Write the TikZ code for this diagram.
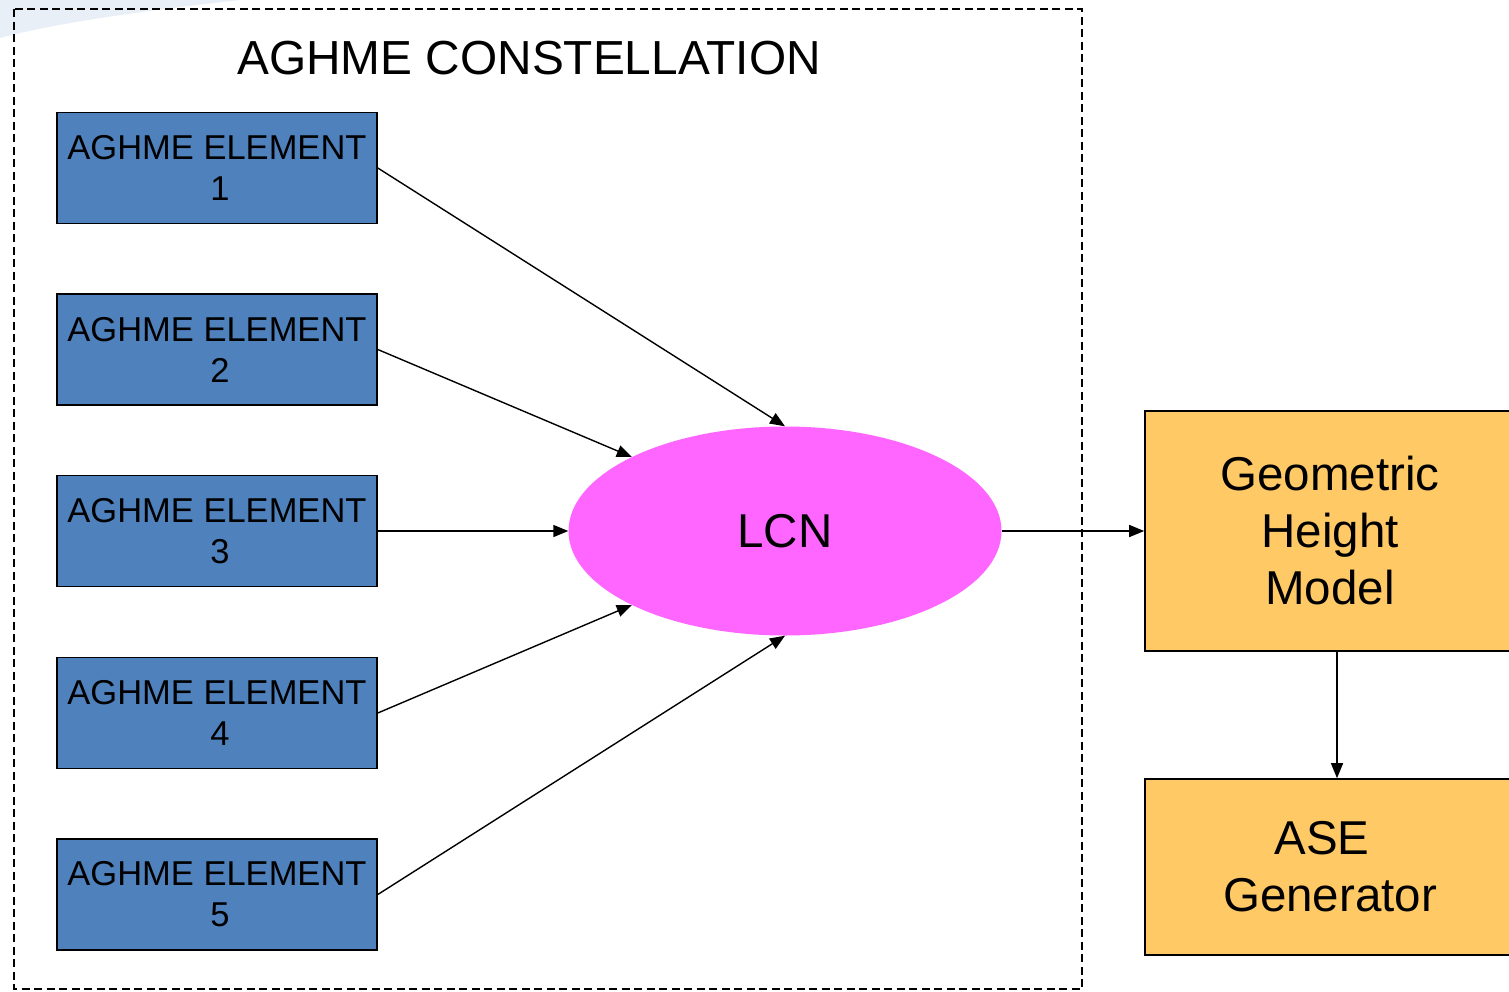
\documentclass[tikz,border=0pt]{standalone}
\usepackage{fontspec}
\setmainfont{Liberation Sans}
\usetikzlibrary{shapes.geometric,arrows.meta}
\definecolor{elemblue}{HTML}{4F81BD}
\definecolor{lcnpink}{HTML}{FF66FF}
\definecolor{outorange}{HTML}{FFCA66}
\definecolor{swoosh}{HTML}{E9EFF7}
\tikzset{
  element/.style={draw=black, line width=1.6pt, fill=elemblue, minimum width=320pt,
    minimum height=111pt, inner sep=0pt, align=center, font=\fontsize{34.5}{41}\selectfont},
  outbox/.style={draw=black, line width=1.6pt, fill=outorange, inner sep=0pt,
    align=center, font=\fontsize{47.5}{57}\selectfont},
  link/.style={line width=1.4pt, -{Triangle[length=15pt,width=12pt]}},
}
\begin{document}
\begin{tikzpicture}[x=1pt,y=-1pt]
  \useasboundingbox (0,0) rectangle (1509,991);
  \fill[white] (0,0) rectangle (1509,991);
  % faint backdrop sweep in the corner
  \fill[swoosh] (0,0) -- (240,0) .. controls (150,10) and (60,22) .. (0,38) -- cycle;

  % constellation frame
  \draw[line width=1.5pt, dash pattern=on 8pt off 4.5pt] (14,9) rectangle (1082,989);
  \node[font=\fontsize{47.8}{56}\selectfont] (title) at (529,58) {AGHME CONSTELLATION};

  % elements
  \node[element] (e1) at (217,168) {AGHME ELEMENT\\\hspace*{6pt}1};
  \node[element] (e2) at (217,349.5) {AGHME ELEMENT\\\hspace*{6pt}2};
  \node[element] (e3) at (217,531) {AGHME ELEMENT\\\hspace*{6pt}3};
  \node[element] (e4) at (217,713) {AGHME ELEMENT\\\hspace*{6pt}4};
  \node[element] (e5) at (217,894.5) {AGHME ELEMENT\\\hspace*{6pt}5};

  % combining node
  \node[ellipse, fill=lcnpink, minimum width=433pt, minimum height=209pt, inner sep=0pt,
        font=\fontsize{47.5}{56}\selectfont] (lcn) at (785,531) {LCN};

  % outputs
  \node[outbox, minimum width=370pt, minimum height=240pt] (ghm) at (1330,531)
       {Geometric\\Height\\Model};
  \node[outbox, minimum width=370pt, minimum height=176pt] (ase) at (1330,867)
       {ASE\hspace*{16pt}\\Generator};

  % connectors
  \coordinate (drop) at (1337,0);
  \draw[link] (e1.east) -- (lcn.north);
  \draw[link] (e2.east) -- (lcn.north west);
  \draw[link] (e3.east) -- (lcn.west);
  \draw[link] (e4.east) -- (lcn.south west);
  \draw[link] (e5.east) -- (lcn.south);
  \draw[link] (lcn.east) -- (ghm.west);
  \draw[link] (ghm.south -| drop) -- (ase.north -| drop);
\end{tikzpicture}
\end{document}
